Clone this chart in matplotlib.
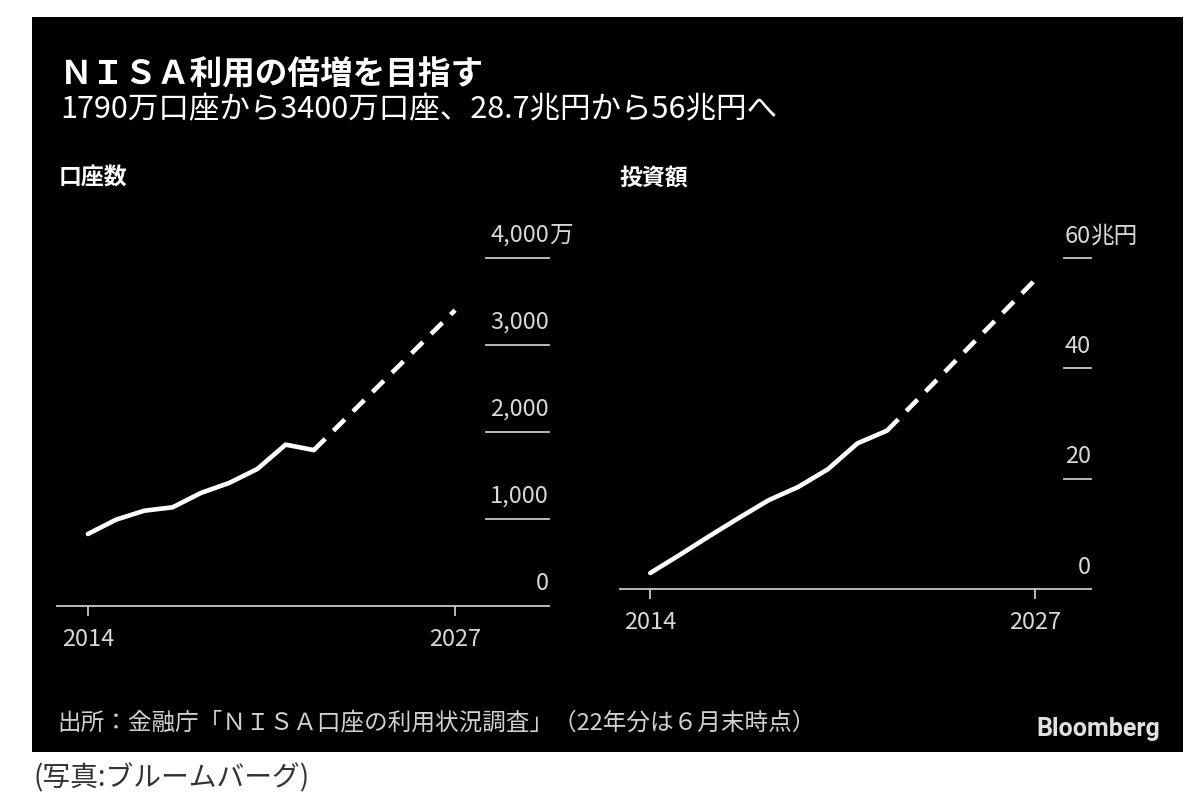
import matplotlib.pyplot as plt
from matplotlib.patches import Rectangle

plt.rcParams['font.family'] = ['Noto Sans CJK JP', 'DejaVu Sans']

# データ
years = [2014, 2015, 2016, 2017, 2018, 2019, 2020, 2021, 2022]
accounts = [825, 990, 1093, 1132, 1297, 1412, 1573, 1853, 1790]   # 万口座
amount = [2.9, 6.2, 9.6, 12.9, 16.1, 18.5, 21.7, 26.4, 28.7]       # 兆円
target_year = [2022, 2027]
target_accounts = [1790, 3400]
target_amount = [28.7, 56]

acc_ticks = [0, 1000, 2000, 3000, 4000]
acc_labels = ['0', '1,000', '2,000', '3,000', '4,000']
amt_ticks = [0, 20, 40, 60]
amt_labels = ['0', '20', '40', '60']
x_ticks = [2014, 2027]

W, H = 1200, 803
fig = plt.figure(figsize=(W / 100, H / 100), dpi=100)
fig.patch.set_facecolor('white')


def fx(px):
    return px / W


def fy(py):
    return 1 - py / H


# 黒い背景
fig.patches.append(Rectangle((fx(32), fy(753)), fx(1183) - fx(32), fy(18) - fy(753),
                             transform=fig.transFigure, facecolor='black',
                             edgecolor='none', zorder=-10))

GRAY = '#c8c8c8'
TXT = '#d8d8d8'


def panel(x0, x1, y0, ytop, xlim, ylim, grid_from, ticks, labels, unit, off):
    ax = fig.add_axes([fx(x0), fy(y0), fx(x1) - fx(x0), fy(ytop) - fy(y0)])
    ax.set_facecolor('none')
    ax.set_xlim(*xlim)
    ax.set_ylim(*ylim)
    for s in ['top', 'right', 'left']:
        ax.spines[s].set_visible(False)
    ax.spines['bottom'].set_color(GRAY)
    ax.spines['bottom'].set_linewidth(1.3)
    ax.set_yticks([])
    ax.set_xticks(x_ticks)
    ax.set_xticklabels([str(t) for t in x_ticks])
    ax.tick_params(axis='x', colors=GRAY, length=7, width=1.3, pad=8,
                   labelsize=17, labelcolor=TXT)
    tr = ax.get_yaxis_transform()
    for v, lab in zip(ticks, labels):
        if v != 0:
            ax.plot([grid_from, 1.0], [v, v], transform=tr, color=GRAY,
                    lw=1.3, clip_on=False)
        ax.annotate(lab, xy=(1.0, v), xycoords=tr, xytext=(0, off),
                    textcoords='offset points', ha='right', va='center',
                    fontsize=17, color=TXT)
        if v == ticks[-1]:
            ax.annotate(unit, xy=(1.0, v), xycoords=tr, xytext=(0, off),
                        textcoords='offset points', ha='left', va='center',
                        fontsize=17, color=TXT)
    return ax


ax1 = panel(56.8, 548.9, 606.7, 259, (2012.9, 2030.32), (0, 4000), 0.872,
            acc_ticks, acc_labels, '万', 17)
ax1.plot(years, accounts, color='white', lw=3.3, solid_capstyle='round',
         solid_joinstyle='round', clip_on=False)
ax1.plot(target_year, target_accounts, color='white', lw=3.3,
         dashes=(3.5, 2.5), clip_on=False)

ax2 = panel(620.1, 1090.6, 590, 259, (2012.98, 2028.88), (0, 60), 0.944,
            amt_ticks, amt_labels, '兆円', 16.5)
ax2.plot(years, amount, color='white', lw=3.3, solid_capstyle='round',
         solid_joinstyle='round', clip_on=False)
ax2.plot(target_year, target_amount, color='white', lw=3.3,
         dashes=(3.5, 2.5), clip_on=False)

# テキスト
fig.text(fx(60), fy(75), 'ＮＩＳＡ利用の倍増を目指す', fontsize=23.5,
         fontweight='bold', color='white', va='center', ha='left')
fig.text(fx(60), fy(110), '1790万口座から3400万口座、28.7兆円から56兆円へ',
         fontsize=22, color='white', va='center', ha='left')
fig.text(fx(59), fy(178), '口座数', fontsize=16.5, fontweight='bold',
         color='white', va='center', ha='left')
fig.text(fx(619), fy(178), '投資額', fontsize=16.5, fontweight='bold',
         color='white', va='center', ha='left')
fig.text(fx(57), fy(723), '出所：金融庁「ＮＩＳＡ口座の利用状況調査」（22年分は６月末時点）',
         fontsize=17, color='#d0d0d0', va='center', ha='left')
fig.text(fx(1160), fy(729), 'Bloomberg', fontsize=18, fontweight='bold',
         family='Roboto', color='#e0e0e0', va='center', ha='right')
fig.text(fx(33), fy(778), '(写真:ブルームバーグ)', fontsize=20,
         color='#333333', va='center', ha='left')

fig.savefig('out.png', dpi=100, facecolor=fig.get_facecolor())
